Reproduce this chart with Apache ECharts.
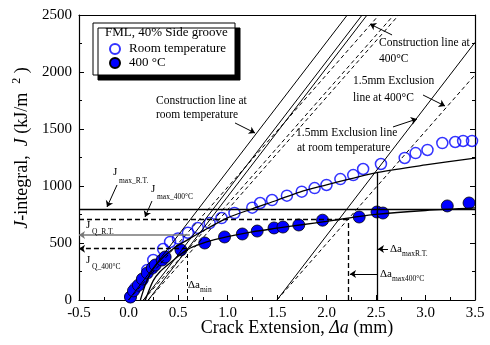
<!DOCTYPE html>
<html style="height: 100%">
  <head>
    <meta charset="UTF-8" />
    <title>J-R curve</title>
    <script src="https://cdn.jsdelivr.net/npm/echarts@6/dist/echarts.min.js"></script>
  </head>
  <body style="height: 100%; margin: 0; background: #fff">
    <div id="main" style="width: 490px; height: 345px"></div>
    <script>
      // measured points: [crack extension (mm), J (kJ/m^2)]
      var rtPoints = [
        [0.02, 26], [0.07, 105], [0.14, 175], [0.19, 263], [0.25, 351], [0.35, 447],
        [0.42, 509], [0.5, 540], [0.6, 590], [0.7, 632], [0.82, 675], [0.94, 719],
        [1.07, 763], [1.25, 810], [1.33, 851], [1.45, 877], [1.6, 915], [1.75, 950],
        [1.88, 982], [2.0, 1009], [2.14, 1061], [2.27, 1096], [2.37, 1149], [2.55, 1193],
        [2.79, 1246], [2.9, 1289], [3.02, 1316], [3.17, 1377], [3.3, 1386], [3.38, 1395],
        [3.47, 1395]
      ];
      var htPoints = [
        [0.02, 26], [0.05, 80], [0.1, 130], [0.14, 184], [0.19, 237], [0.24, 280],
        [0.27, 307], [0.34, 351], [0.37, 377], [0.53, 439], [0.77, 500], [0.97, 553],
        [1.15, 579], [1.3, 605], [1.47, 632], [1.56, 640], [1.72, 658], [1.96, 700],
        [2.33, 728], [2.51, 772], [2.57, 763], [3.22, 825], [3.44, 851]
      ];
      // fitted J-R curves
      var rtFit = [
        [0.12, 0], [0.2, 200], [0.3, 330], [0.45, 450], [0.6, 530], [0.72, 590],
        [1.0, 720], [1.25, 800], [1.5, 875], [1.73, 947], [2.0, 1010], [2.25, 1065],
        [2.52, 1120], [3.0, 1185], [3.5, 1245]
      ];
      var htFit = [
        [0.17, 0], [0.25, 170], [0.32, 250], [0.42, 325], [0.59, 440], [0.79, 509],
        [0.99, 553], [1.25, 598], [1.5, 630], [1.75, 660], [2.0, 690], [2.25, 722],
        [2.5, 752], [3.0, 785], [3.5, 808]
      ];
      // construction / exclusion lines [x0, J0, x1, J1]
      var rtGuides = [[0, 0, 2.21, 2500], [0.15, 0, 2.36, 2500], [0.2, 0, 2.41, 2500], [1.5, 0, 3.5, 2260]];
      var htGuides = [[0, 0, 2.53, 2500], [0.15, 0, 2.68, 2500], [0.2, 0, 2.73, 2500], [1.5, 0, 3.5, 1975]];
      // limits
      var jmaxRT = 800, jmax400 = 710, jqRT = 570, jq400 = 450;
      var daMin = 0.59, daMax400 = 2.22, daMaxRT = 2.51, jAtDaMaxRT = 1123;

      var serif = 'Liberation Serif';
      var chart = echarts.init(document.getElementById('main'));

      function seg(a, b, style, symbols) {
        return [
          { coord: a, symbol: symbols ? symbols[0] : 'none', lineStyle: style },
          { coord: b, symbol: symbols ? symbols[1] : 'none' }
        ];
      }
      var solid = { color: '#000', width: 1, type: 'solid' };
      var dashed = { color: '#000', width: 1, type: [4, 3] };
      var gray = { color: '#777', width: 1.5, type: 'solid' };
      var thick = { color: '#000', width: 1.3, type: 'solid' };
      var thickDash = { color: '#000', width: 1.3, type: [5, 3] };

      var lines = [];
      rtGuides.forEach(function (g) { lines.push(seg([g[0], g[1]], [g[2], g[3]], solid)); });
      htGuides.forEach(function (g) { lines.push(seg([g[0], g[1]], [g[2], g[3]], dashed)); });
      lines.push(seg([-0.5, jmaxRT], [3.5, jmaxRT], thick));
      lines.push(seg([-0.5, jmax400], [daMax400, jmax400], thickDash));
      lines.push(seg([0.62, jqRT], [-0.5, jqRT], gray, ['none', 'arrow']));
      lines.push(seg([daMin, jq400], [-0.5, jq400], thickDash, ['none', 'arrow']));
      lines.push(seg([daMin, 0], [daMin, jq400], dashed));
      lines.push(seg([daMax400, 0], [daMax400, jmax400], thickDash));
      lines.push(seg([daMaxRT, 0], [daMaxRT, jAtDaMaxRT], thick));

      // annotation arrows [from, to]
      var arrows = [
        [[1.076, 1553], [1.278, 1465]],
        [[2.662, 2325], [2.439, 2421]],
        [[2.975, 1798], [3.197, 1702]],
        [[2.672, 1518], [2.914, 1588]],
        [[-0.116, 1009], [-0.217, 816]],
        [[0.237, 868], [0.167, 728]],
        [[2.621, 447], [2.52, 447]],
        [[2.52, 228], [2.237, 228]]
      ];
      arrows.forEach(function (a) { lines.push(seg(a[0], a[1], solid, ['none', 'arrow'])); });

      function txt(x, y, s, size) {
        return {
          type: 'text', x: x, y: y, z: 50,
          style: { text: s, font: (size || 11.5) + 'px "' + serif + '"', fill: '#000', textVerticalAlign: 'middle' }
        };
      }

      var option = {
        animation: false,
        backgroundColor: '#fff',
        grid: { left: 79, right: 15, top: 15, bottom: 45 },
        legend: {
          left: 109, top: 42, orient: 'vertical', itemWidth: 10, itemHeight: 10, itemGap: 0, padding: 0,
          textStyle: { fontFamily: serif, fontSize: 13, lineHeight: 14, color: '#000', padding: [0, 0, 0, 4] },
          data: ['Room temperature', '400 °C'],
          z: 40
        },
        xAxis: [
          {
            type: 'value', min: -0.5, max: 3.5, interval: 0.5,
            axisLine: { onZero: false, lineStyle: { color: '#000', width: 1.2 } },
            axisTick: { inside: true, length: 5, lineStyle: { color: '#000' } },
            minorTick: { show: true, splitNumber: 2, length: 3, lineStyle: { color: '#000' } },
            splitLine: { show: false },
            axisLabel: { fontFamily: serif, fontSize: 15, color: '#000', margin: 6, formatter: function (v) { return v.toFixed(1); } }
          },
          {
            type: 'value', position: 'top', min: -0.5, max: 3.5, interval: 0.5,
            axisLine: { onZero: false, lineStyle: { color: '#000', width: 1.2 } },
            axisTick: { show: false }, axisLabel: { show: false }, splitLine: { show: false }
          }
        ],
        yAxis: [
          {
            type: 'value', min: 0, max: 2500, interval: 500,
            axisLine: { show: true, onZero: false, lineStyle: { color: '#000', width: 1.2 } },
            axisTick: { show: true, inside: true, length: 5, lineStyle: { color: '#000' } },
            minorTick: { show: true, splitNumber: 2, length: 3, lineStyle: { color: '#000' } },
            splitLine: { show: false },
            axisLabel: { fontFamily: serif, fontSize: 15, color: '#000', margin: 7, formatter: function (v) { return String(v); } }
          },
          {
            type: 'value', position: 'right', min: 0, max: 2500, interval: 500,
            axisLine: { show: true, onZero: false, lineStyle: { color: '#000', width: 1.2 } },
            axisTick: { show: true, inside: true, length: 5, lineStyle: { color: '#000' } },
            minorTick: { show: true, splitNumber: 2, length: 3, lineStyle: { color: '#000' } },
            splitLine: { show: false }, axisLabel: { show: false }
          }
        ],
        graphic: [
          {
            type: 'rect', z: 30,
            shape: { x: 93, y: 23, width: 142, height: 52 },
            style: { fill: '#fff', stroke: '#000', lineWidth: 1, shadowColor: '#000', shadowOffsetX: 5, shadowOffsetY: 5, shadowBlur: 0 }
          },
          txt(105, 33, 'FML, 40% Side groove', 13),
          txt(156, 101, 'Construction line at'),
          txt(156, 115, 'room temperature'),
          txt(379, 43, 'Construction line at'),
          txt(379, 59, '400°C'),
          txt(353, 81, '1.5mm Exclusion'),
          txt(353, 98, 'line at 400°C'),
          txt(296, 133, '1.5mm Exclusion line'),
          txt(297, 148, 'at room temperature'),
          txt(113, 172, 'J', 11), txt(119, 181, 'max_R.T.', 7.5),
          txt(151, 189, 'J', 11), txt(157, 197, 'max_400°C', 7.5),
          txt(86, 225, 'J', 11), txt(92, 232, 'Q_R.T.', 7.5),
          txt(86, 260, 'J', 11), txt(92, 267, 'Q_400°C', 7.5),
          txt(188, 285, 'Δa', 11), txt(200, 290, 'min', 7.5),
          txt(390, 249, 'Δa', 11), txt(402, 254, 'maxR.T.', 7.5),
          txt(380, 274, 'Δa', 11), txt(392, 279, 'max400°C', 7.5),
          {
            type: 'text', x: 297, y: 328, z: 50,
            style: {
              text: '{n|Crack Extension, }{i|Δa}{n| (mm)}',
              textAlign: 'center', textVerticalAlign: 'middle',
              rich: {
                n: { fontFamily: serif, fontSize: 18, color: '#000' },
                i: { fontFamily: serif, fontSize: 18, fontStyle: 'italic', color: '#000' }
              }
            }
          },
          {
            type: 'text', x: 22, y: 148, rotation: Math.PI / 2, z: 50,
            style: {
              text: '{i|J}{n|-integral,  }{i|J}{n| (kJ/m  }{s|2}{n| )}',
              textAlign: 'center', textVerticalAlign: 'middle',
              rich: {
                n: { fontFamily: serif, fontSize: 18, color: '#000' },
                i: { fontFamily: serif, fontSize: 18, fontStyle: 'italic', color: '#000' },
                s: { fontFamily: serif, fontSize: 12, color: '#000', padding: [0, 0, 10, 0] }
              }
            }
          }
        ],
        series: [
          {
            name: 'Room temperature', type: 'scatter', symbol: 'circle', symbolSize: 11, z: 3,
            itemStyle: { color: 'rgba(255,255,255,0)', borderColor: '#0000ff', borderWidth: 1.5 },
            data: rtPoints
          },
          {
            name: '400 °C', type: 'scatter', symbol: 'circle', symbolSize: 12, z: 3,
            itemStyle: { color: '#0000ff', borderColor: '#000', borderWidth: 0.8, opacity: 1 },
            data: htPoints
          },
          {
            type: 'line', data: rtFit, smooth: 0.3, showSymbol: false, z: 5,
            lineStyle: { color: '#000', width: 1.3 }
          },
          {
            type: 'line', data: htFit, smooth: 0.3, showSymbol: false, z: 5,
            lineStyle: { color: '#000', width: 1.3 }
          },
          {
            type: 'line', data: [], z: 4,
            markLine: {
              silent: true, animation: false, symbolSize: 6,
              label: { show: false },
              emphasis: { disabled: true },
              data: lines
            }
          }
        ]
      };
      chart.setOption(option);
    </script>
  </body>
</html>
